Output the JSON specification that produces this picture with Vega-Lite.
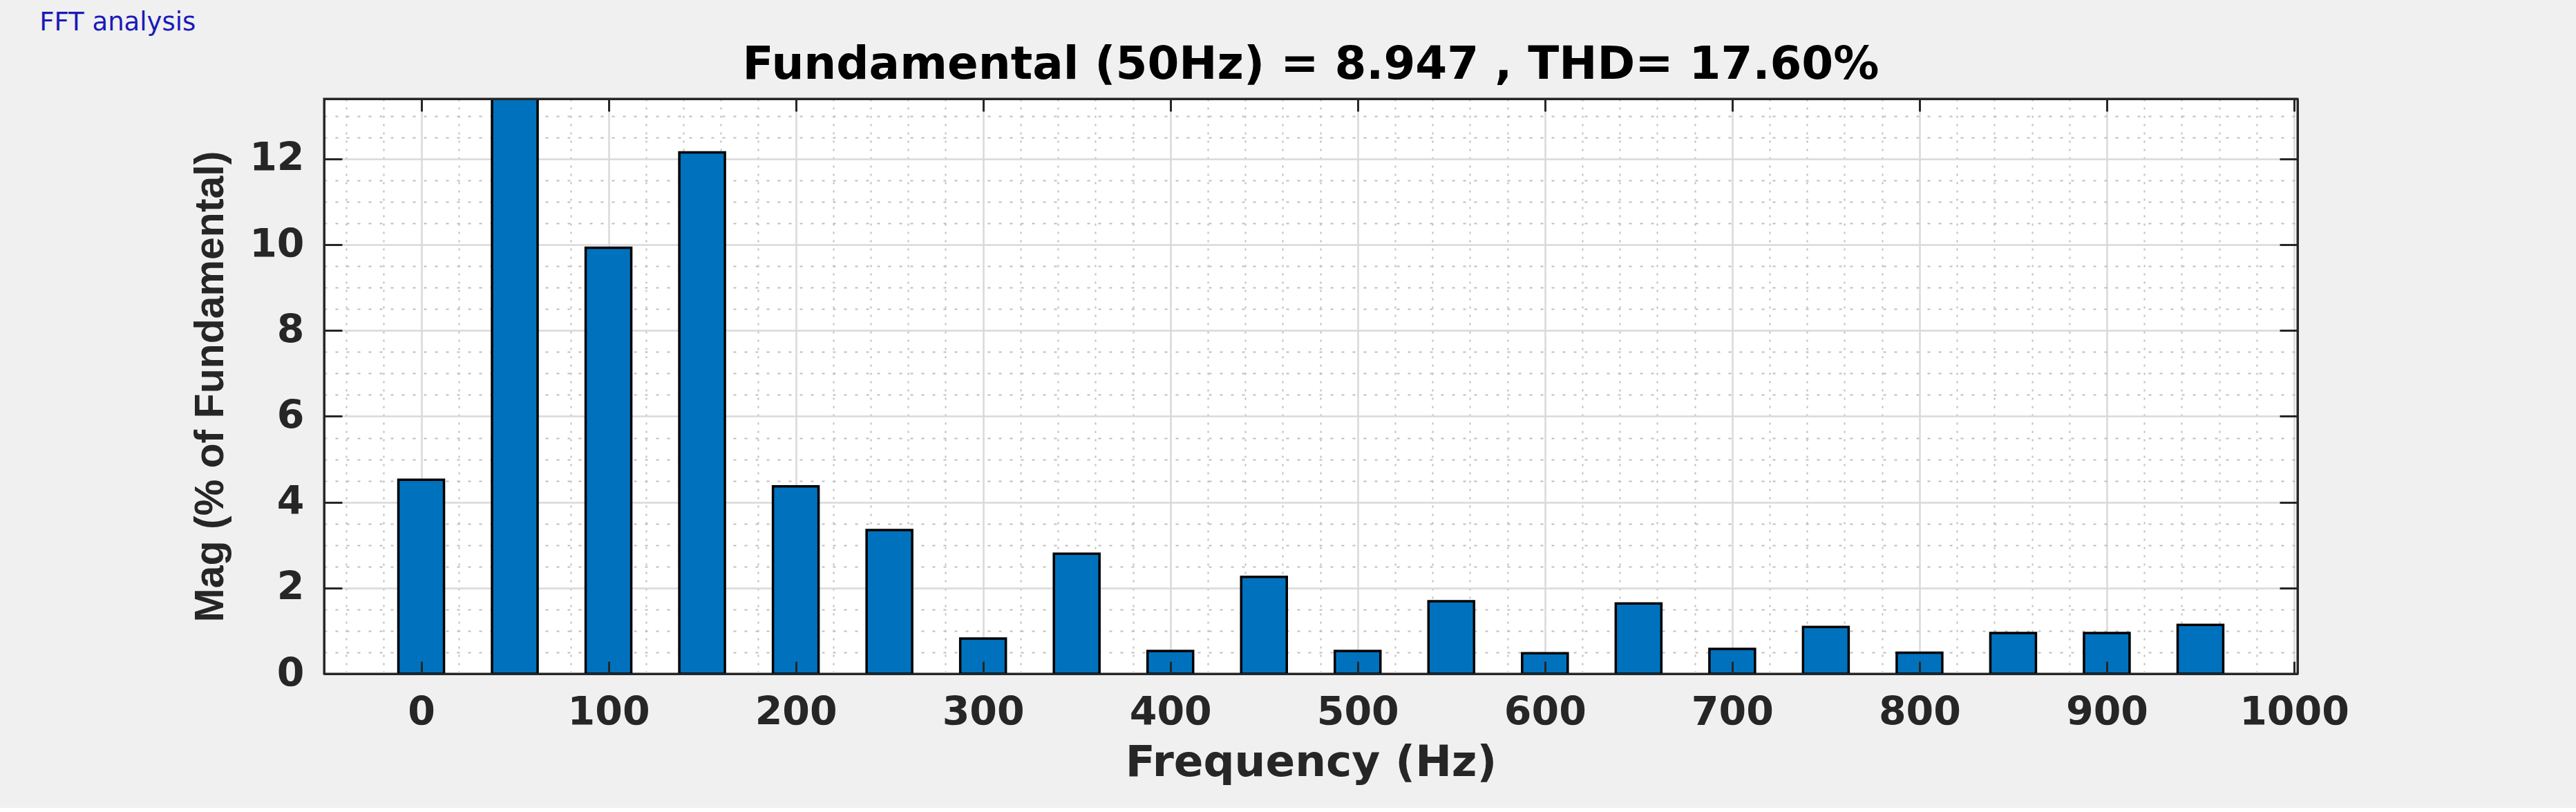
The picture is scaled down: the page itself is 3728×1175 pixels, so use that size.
{
  "$schema": "https://vega.github.io/schema/vega-lite/v6.json",
  "background": "#f0f0f0",
  "padding": {"left": 57, "top": 14, "right": 346, "bottom": 32},
  "title": {"text": "FFT analysis", "anchor": "start", "frame": "bounds", "font": "DejaVu Sans", "fontSize": 37, "fontWeight": "normal", "color": "#1a1ab8", "dx": -217, "offset": -22, "baseline": "alphabetic"},
  "data": {"values": [
    {"freq": 0, "mag": 4.52}, {"freq": 50, "mag": 100}, {"freq": 100, "mag": 9.93}, {"freq": 150, "mag": 12.15},
    {"freq": 200, "mag": 4.37}, {"freq": 250, "mag": 3.35}, {"freq": 300, "mag": 0.82}, {"freq": 350, "mag": 2.8},
    {"freq": 400, "mag": 0.53}, {"freq": 450, "mag": 2.26}, {"freq": 500, "mag": 0.53}, {"freq": 550, "mag": 1.69},
    {"freq": 600, "mag": 0.48}, {"freq": 650, "mag": 1.64}, {"freq": 700, "mag": 0.58}, {"freq": 750, "mag": 1.09},
    {"freq": 800, "mag": 0.49}, {"freq": 850, "mag": 0.95}, {"freq": 900, "mag": 0.95}, {"freq": 950, "mag": 1.14}
  ]},
  "vconcat": [
    {
      "width": 2856,
      "height": 832,
      "title": {"text": "Fundamental (50Hz) = 8.947 , THD= 17.60%", "anchor": "middle", "frame": "group", "font": "DejaVu Sans", "fontSize": 66, "fontWeight": "bold", "color": "#000000", "baseline": "alphabetic", "offset": -38},
      "layer": [
        {
          "mark": {"type": "bar", "opacity": 0, "clip": true, "size": 66},
          "encoding": {
            "x": {"field": "freq", "type": "quantitative", "scale": {"domain": [-50, 1000], "nice": false, "zero": false},
              "axis": {"orient": "bottom", "values": [-40,-20,0,20,40,60,80,100,120,140,160,180,200,220,240,260,280,300,320,340,360,380,400,420,440,460,480,500,520,540,560,580,600,620,640,660,680,700,720,740,760,780,800,820,840,860,880,900,920,940,960,980,1000],
                "grid": true, "labels": false, "ticks": false, "domain": false, "title": null, "zindex": 0,
                "gridColor": {"condition": {"test": "datum.value % 100 === 0", "value": "#d9d9d9"}, "value": "#bdbdbd"},
                "gridDash": {"condition": {"test": "datum.value % 100 === 0", "value": []}, "value": [3, 9]},
                "gridWidth": {"condition": {"test": "datum.value % 100 === 0", "value": 2.5}, "value": 2}}},
            "y": {"field": "mag", "type": "quantitative", "scale": {"domain": [0, 13.4], "nice": false, "zero": true},
              "axis": {"orient": "left", "values": [0.5,1,1.5,2,2.5,3,3.5,4,4.5,5,5.5,6,6.5,7,7.5,8,8.5,9,9.5,10,10.5,11,11.5,12,12.5,13],
                "grid": true, "labels": false, "ticks": false, "domain": false, "title": null, "zindex": 0,
                "gridColor": {"condition": {"test": "datum.value % 2 === 0", "value": "#d9d9d9"}, "value": "#bdbdbd"},
                "gridDash": {"condition": {"test": "datum.value % 2 === 0", "value": []}, "value": [4, 12]},
                "gridWidth": {"condition": {"test": "datum.value % 2 === 0", "value": 2.5}, "value": 2}}}
          }
        },
        {
          "mark": {"type": "bar", "color": "#0072BD", "stroke": "#000000", "strokeWidth": 3.5, "clip": true, "size": 66},
          "encoding": {
            "x": {"field": "freq", "type": "quantitative", "scale": {"domain": [-50, 1000], "nice": false, "zero": false},
              "axis": {"orient": "bottom", "values": [0,100,200,300,400,500,600,700,800,900,1000], "format": "d", "grid": false, "zindex": 1,
                "domain": true, "domainColor": "#262626", "domainWidth": 3,
                "ticks": true, "tickSize": -18, "tickWidth": 3, "tickColor": "#262626",
                "labelFont": "DejaVu Sans", "labelFontSize": 57, "labelFontWeight": "bold", "labelColor": "#262626", "labelPadding": 46, "labelFlush": false, "labelOverlap": false, "labelLimit": 0,
                "title": "Frequency (Hz)", "titleFont": "DejaVu Sans", "titleFontSize": 63, "titleFontWeight": "bold", "titleColor": "#262626", "titlePadding": 13}},
            "y": {"field": "mag", "type": "quantitative", "scale": {"domain": [0, 13.4], "nice": false, "zero": true},
              "axis": {"orient": "left", "values": [0,2,4,6,8,10,12], "format": "d", "grid": false, "zindex": 1,
                "domain": true, "domainColor": "#262626", "domainWidth": 3,
                "ticks": true, "tickSize": -26, "tickWidth": 3, "tickColor": "#262626",
                "labelFont": "DejaVu Sans", "labelFontSize": 57, "labelFontWeight": "bold", "labelColor": "#262626", "labelPadding": 55, "labelFlush": false, "labelOverlap": false, "labelLimit": 0,
                "title": "Mag (% of Fundamental)", "titleFont": "Liberation Sans", "titleFontSize": 59, "titleFontWeight": "bold", "titleColor": "#262626", "titlePadding": 26}}
          }
        },
        {
          "mark": {"type": "bar", "opacity": 0, "clip": true, "size": 66},
          "encoding": {
            "x": {"field": "freq", "type": "quantitative", "scale": {"domain": [-50, 1000], "nice": false, "zero": false},
              "axis": {"orient": "top", "values": [0,100,200,300,400,500,600,700,800,900,1000], "grid": false, "zindex": 1,
                "domain": true, "domainColor": "#262626", "domainWidth": 3,
                "ticks": true, "tickSize": -18, "tickWidth": 3, "tickColor": "#262626", "labels": false, "title": null}},
            "y": {"field": "mag", "type": "quantitative", "scale": {"domain": [0, 13.4], "nice": false, "zero": true},
              "axis": {"orient": "right", "values": [0,2,4,6,8,10,12], "grid": false, "zindex": 1,
                "domain": true, "domainColor": "#262626", "domainWidth": 3,
                "ticks": true, "tickSize": -26, "tickWidth": 3, "tickColor": "#262626", "labels": false, "title": null}}
          }
        }
      ],
      "resolve": {"axis": {"x": "independent", "y": "independent"}}
    }
  ],
  "config": {
    "view": {"fill": "#ffffff", "stroke": "#262626", "strokeWidth": 3}
  }
}
